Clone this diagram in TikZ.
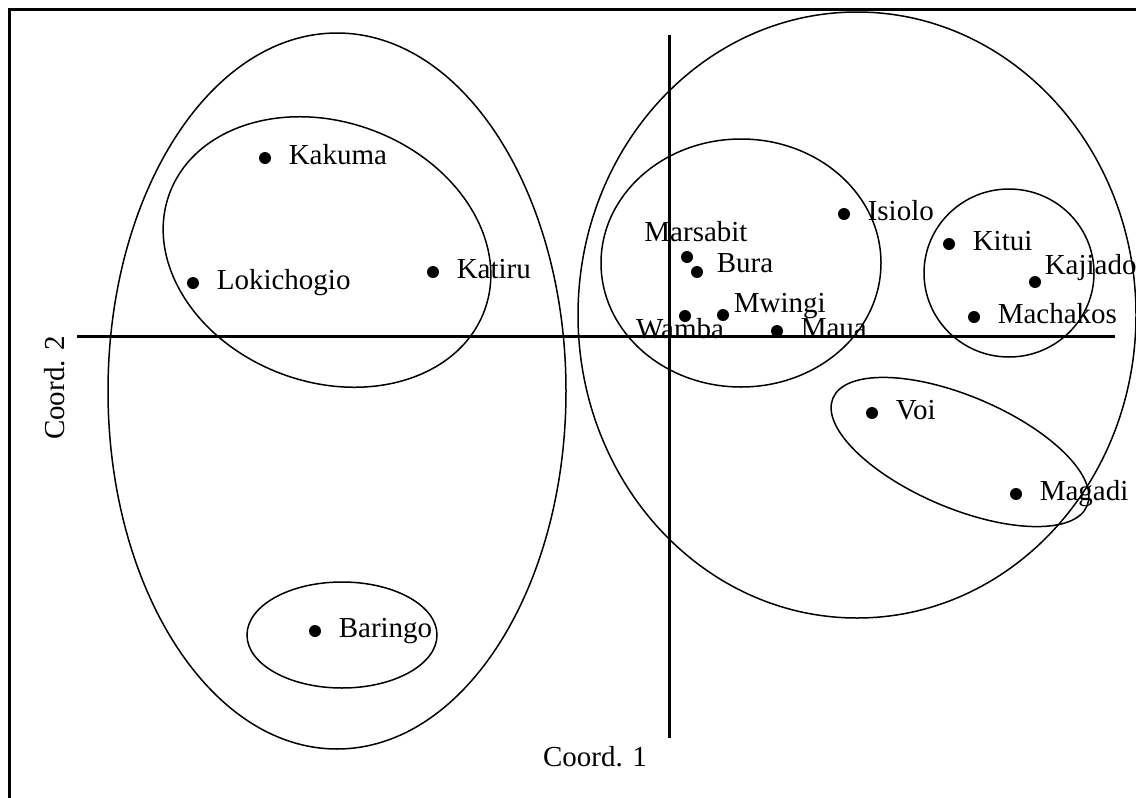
\documentclass[tikz,border=0pt]{standalone}
\usepackage{fontspec}
\setmainfont{Liberation Serif}
\usetikzlibrary{positioning}

\begin{document}
\begin{tikzpicture}[
        x=0.5pt, y=-0.5pt,
        node distance=8.5pt,
        dot/.style={circle, fill=black, inner sep=0pt, minimum size=6pt},
        lbl/.style={inner sep=0pt, text height=1.5ex, text depth=0pt,
                    font=\fontsize{14.5}{17}\selectfont},
        axis/.style={line width=1.5pt},
        ring/.style={line width=0.75pt}
    ]
    \useasboundingbox (0,0) rectangle (1136,798);
    \draw[line width=1.5pt] (9,812) -- (9,9) -- (1150,9);

    \coordinate (hl) at (77,336);
    \coordinate (hr) at (1115,336);
    \coordinate (vt) at (669,35);
    \coordinate (vb) at (669,738);
    \draw[axis] (hl) -- (hr);
    \draw[axis] (vt) -- (vb);
    \node[lbl] (coord1) at (595,760) {Coord. 1};
    \node[lbl, rotate=90] (coord2) at (58,388) {Coord. 2};

    \draw[ring] (337,391) ellipse [x radius=229, y radius=358];
    \draw[ring, rotate around={-20.5:(327,252)}] (327,252) ellipse [x radius=168, y radius=130];
    \draw[ring] (342,635) ellipse [x radius=95, y radius=53];
    \draw[ring] (857,315) ellipse [x radius=279, y radius=303];
    \draw[ring] (741,263) ellipse [x radius=140, y radius=124];
    \draw[ring] (1009,273) ellipse [x radius=85, y radius=84];
    \draw[ring, rotate around={-23:(960,452)}] (960,452) ellipse [x radius=138, y radius=56];

    \node[dot] (kakuma)     at (265,158) {};
    \node[dot] (lokichogio) at (193,283) {};
    \node[dot] (katiru)     at (433,272) {};
    \node[dot] (baringo)    at (315,631) {};
    \node[dot] (marsabit)   at (687,257) {};
    \node[dot] (bura)       at (697,272) {};
    \node[dot] (wamba)      at (685,316) {};
    \node[dot] (mwingi)     at (723,315) {};
    \node[dot] (maua)       at (777,331) {};
    \node[dot] (isiolo)     at (844,214) {};
    \node[dot] (kitui)      at (949,244) {};
    \node[dot] (kajiado)    at (1035,282) {};
    \node[dot] (machakos)   at (974,317) {};
    \node[dot] (voi)        at (872,413) {};
    \node[dot] (magadi)     at (1016,494) {};

    \node[lbl, right=of kakuma]     (kakumaL)     {Kakuma};
    \node[lbl, right=of lokichogio] (lokichogioL) {Lokichogio};
    \node[lbl, right=of katiru]     (katiruL)     {Katiru};
    \node[lbl, right=of baringo]    (baringoL)    {Baringo};
    \node[lbl, above=4.5pt of marsabit, xshift=4.5pt] (marsabitL) {Marsabit};
    \node[lbl, right=6.5pt of bura, yshift=3pt]      (buraL)     {Bura};
    \node[lbl, below=1pt of wamba, xshift=-2.5pt]    (wambaL)    {Wamba};
    \node[lbl, right=2pt of mwingi, yshift=4.5pt]    (mwingiL)   {Mwingi};
    \node[lbl, right=of maua]       (mauaL)       {Maua};
    \node[lbl, right=of isiolo]     (isioloL)     {Isiolo};
    \node[lbl, right=of kitui]      (kituiL)      {Kitui};
    \node[lbl, right=1.5pt of kajiado, yshift=7pt]   (kajiadoL)  {Kajiado};
    \node[lbl, right=of machakos]   (machakosL)   {Machakos};
    \node[lbl, right=of voi]        (voiL)        {Voi};
    \node[lbl, right=of magadi]     (magadiL)     {Magadi};
\end{tikzpicture}
\end{document}
